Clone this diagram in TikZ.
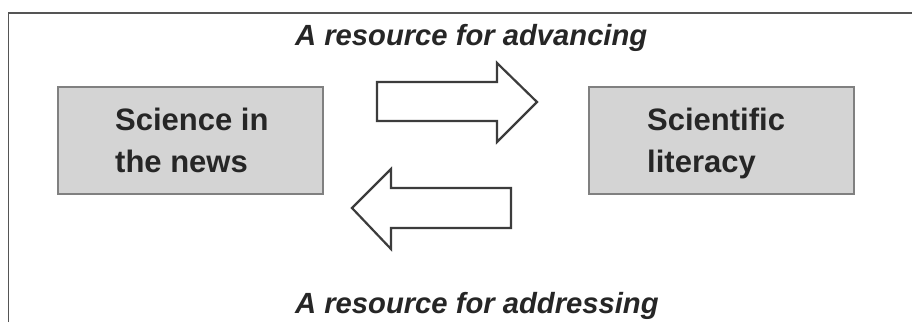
\documentclass[tikz,border=0pt]{standalone}
\usepackage{fontspec}
\setmainfont{Liberation Sans}
\definecolor{boxfill}{HTML}{D4D4D4}
\definecolor{boxline}{HTML}{808080}
\definecolor{inkdark}{HTML}{262626}
\definecolor{framecol}{HTML}{555555}
\definecolor{arrowcol}{HTML}{3C3C3C}
\tikzset{
  box/.style={draw=boxline, fill=boxfill, line width=1.2pt, minimum width=265pt, minimum height=107pt, inner sep=0pt},
  boxtext/.style={anchor=base west, align=left, text=inkdark, inner sep=0pt, font=\bfseries\fontsize{31}{42}\selectfont},
  caption/.style={anchor=base west, text=inkdark, inner sep=0pt, font=\bfseries\itshape\fontsize{29.2}{30}\selectfont},
  blockarrow/.style={draw=arrowcol, fill=white, line width=2.2pt, line join=miter},
  frameline/.style={draw=framecol, line width=1.6pt}
}
\begin{document}
\begin{tikzpicture}[x=1pt,y=-1pt]
\useasboundingbox (0,0) rectangle (912,322);
\fill[white] (0,0) rectangle (912,322);
% frame
\coordinate (fb) at (8.3,322);
\coordinate (fc) at (8.3,12.7);
\coordinate (fr) at (912,12.7);
\draw[frameline] (fb) -- (fc) -- (fr);
% boxes
\node[box] (news) at (190.5,140.5) {};
\node[box] (lit) at (721.5,140.5) {};
\node[boxtext] (newstext) at (115,172) {Science in\\the news};
\node[boxtext] (littext) at (647,172) {Scientific\\literacy};
% captions
\node[caption] (adv) at (295,45) {A resource for advancing};
\node[caption] (addr) at (295,313) {A resource for addressing};
% block arrows
\draw[blockarrow] (377,82) -- (497,82) -- (497,63) -- (537,102) -- (497,142) -- (497,121) -- (377,121) -- cycle;
\draw[blockarrow] (511,188) -- (391,188) -- (391,169) -- (352,208) -- (391,249) -- (391,228) -- (511,228) -- cycle;
\end{tikzpicture}
\end{document}
